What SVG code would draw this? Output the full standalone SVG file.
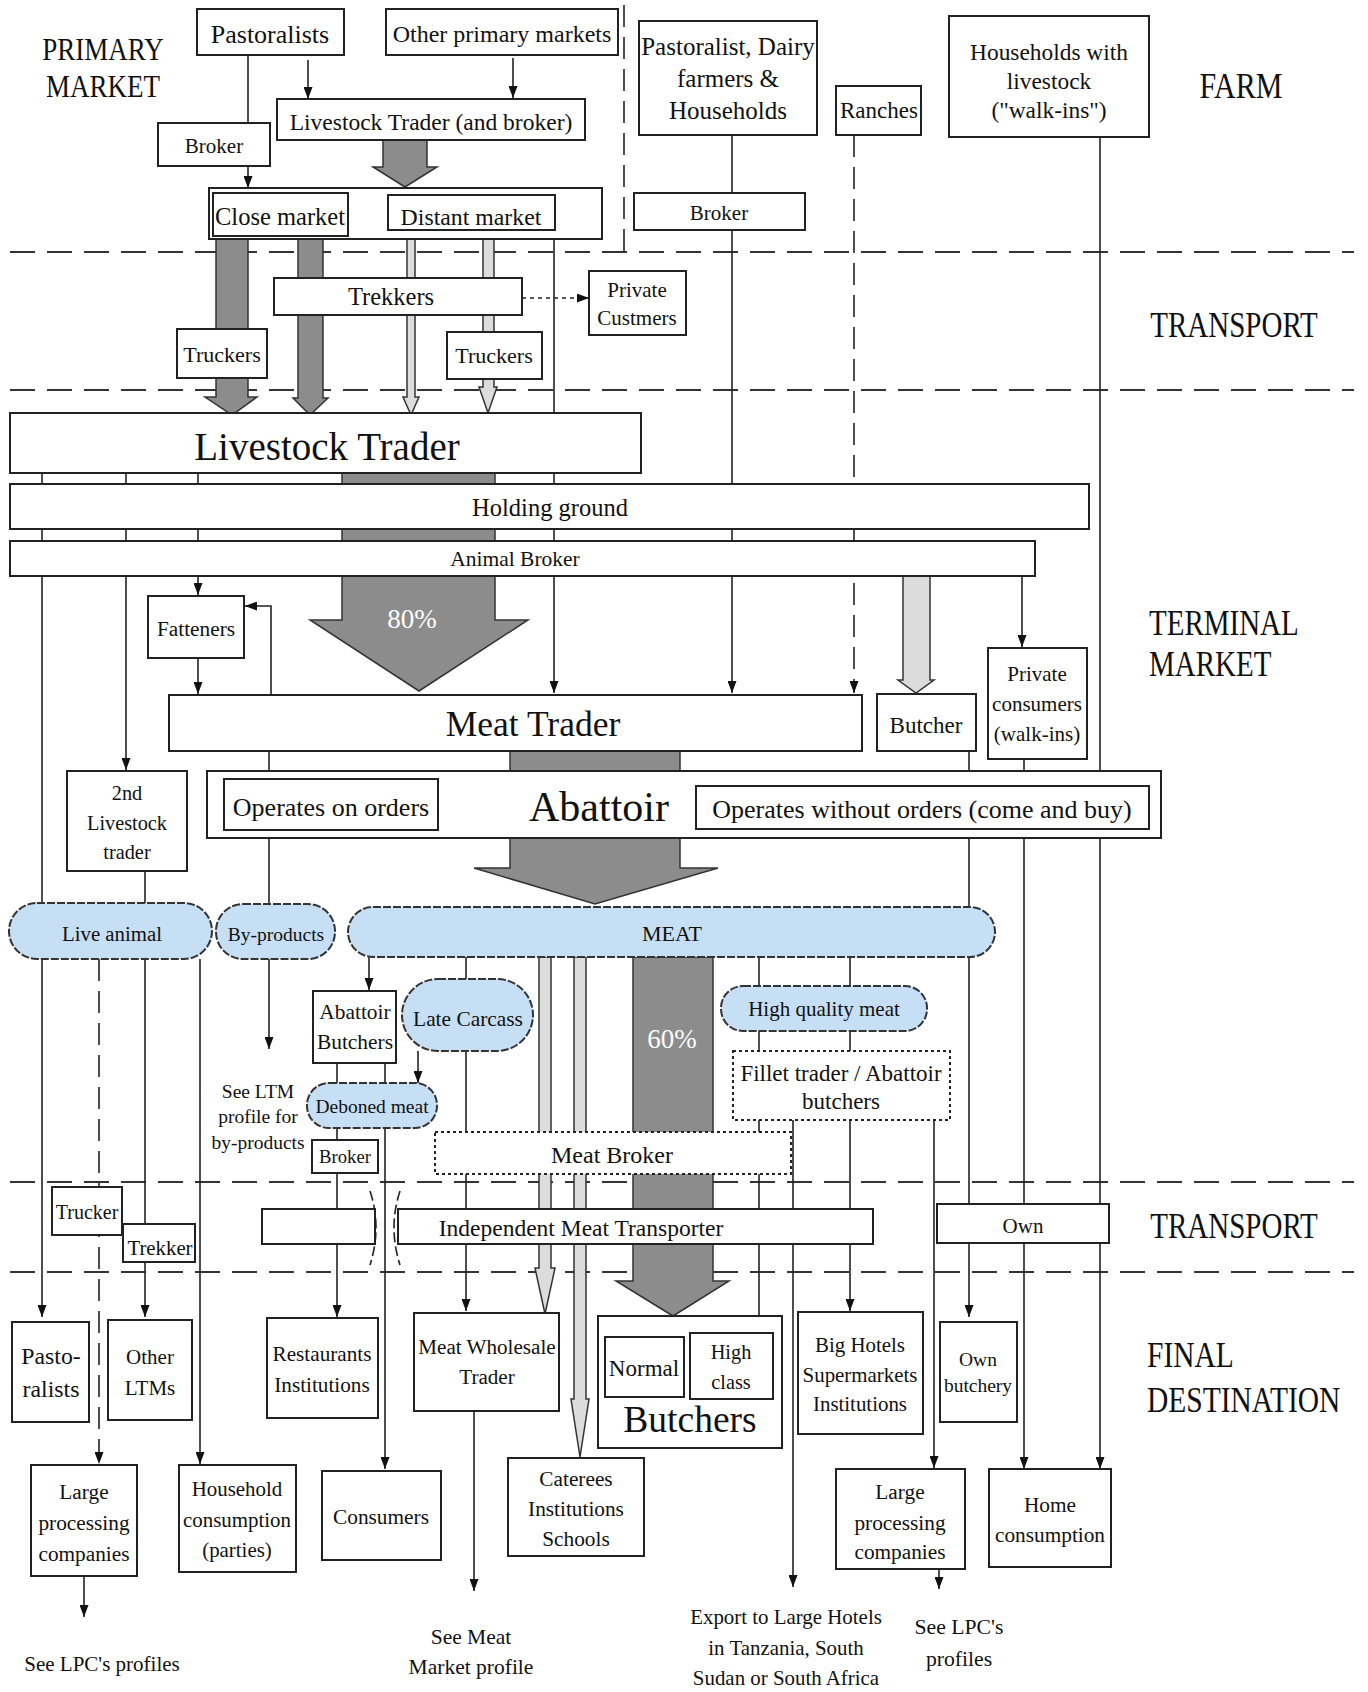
<svg xmlns="http://www.w3.org/2000/svg" width="1368" height="1692" viewBox="0 0 1368 1692">
<style>
.box{fill:#fff;stroke:#222;stroke-width:2}
.pill{fill:#c6dff5;stroke:#333;stroke-width:2;stroke-dasharray:8 2}
.dot{fill:#fff;stroke:#222;stroke-width:2;stroke-dasharray:3 3}
.ln{fill:none;stroke:#222;stroke-width:1.6}
.arr{marker-end:url(#ah)}
.dash{stroke-dasharray:22 10}
.sep{fill:none;stroke:#333;stroke-width:2;stroke-dasharray:25 12}
.big{fill:#8c8c8c;stroke:#333;stroke-width:1.5}
.lite{fill:#dcdcdc;stroke:#333;stroke-width:1.5}
text{font-family:"Liberation Serif","Times New Roman",serif;fill:#111}
.c{text-anchor:middle}
.w{fill:#fff}
</style>
<defs>
<marker id="ah" viewBox="0 0 10 10" refX="10" refY="5" markerWidth="12" markerHeight="9" markerUnits="userSpaceOnUse" orient="auto" preserveAspectRatio="none"><path d="M0,0L10,5L0,10z" fill="#111"/></marker>
</defs>
<rect width="1368" height="1692" fill="#fff"/>

<g id="section-lines">
<path class="sep" d="M10 252H1354M10 390H1354M10 1182H1354M10 1272H1354"/>
<path class="ln dash" d="M624 5V252" stroke-width="2"/>
</g>

<g id="connectors">
<path class="ln arr" d="M248 55V188"/>
<path class="ln arr" d="M308 60V99"/>
<path class="ln arr" d="M513 58V98"/>
<polygon class="big" points="383,140 427,140 427,167 437,167 405,187 373,167 383,167"/>
<polygon class="big" points="216,236 248,236 248,397 257,397 232,415 205,397 216,397"/>
<polygon class="big" points="298,236 323,236 323,398 328,398 310,415 293,398 298,398"/>
<polygon class="lite" points="407,230 415,230 415,397 419,397 411,415 403,397 407,397"/>
<polygon class="lite" points="483,230 494,230 494,387 497,387 488,413 479,387 483,387"/>
<path class="ln arr" d="M554 239V693"/>
<path class="ln arr" d="M522 298H589" stroke-dasharray="4 4"/>
<path class="ln arr" d="M732 135V693"/>
<path class="ln arr dash" d="M854 135V693"/>
<path class="ln arr" d="M1100 137V1469"/>
<polygon class="big" points="342,473 495,473 495,620 528,620 419,691 310,620 342,620"/>
<path class="ln arr" d="M42 473V1317"/>
<path class="ln arr" d="M126 473V770"/>
<path class="ln arr" d="M198 473V595"/>
<path class="ln arr" d="M198 658V694"/>
<path class="ln arr" d="M271 695V606H245"/>
<polygon class="lite" points="903,576 930,576 930,680 934,680 916,693 898,680 903,680"/>
<path class="ln arr" d="M1022 576V647"/>
<polygon class="big" points="510,751 680,751 680,868 718,868 595,904 474,868 510,868"/>
<path class="ln arr" d="M269 751V1049"/>
<path class="ln arr" d="M145 871V1317"/>
<path class="ln arr" d="M969 751V1317"/>
<path class="ln arr" d="M1024 759V1469"/>
<path class="ln arr dash" d="M99 959V1464"/>
<path class="ln arr" d="M200 959V1464"/>
<path class="ln arr" d="M369 957V990"/>
<path class="ln arr" d="M337 1063V1317"/>
<path class="ln arr" d="M385 1063V1469"/>
<path class="ln arr" d="M418 1051V1083"/>
<path class="ln arr" d="M466 957V1311"/>
<polygon class="lite" points="539,957 551,957 551,1268 555,1268 545,1314 535,1268 539,1268"/>
<polygon class="lite" points="574,957 586,957 586,1399 589,1399 580,1457 571,1399 574,1399"/>
<polygon class="big" points="633,957 713,957 713,1281 729,1281 673,1316 616,1281 633,1281"/>
<path class="ln arr" d="M759 957V1332"/>
<path class="ln arr" d="M850 957V1311"/>
<path class="ln arr" d="M793 1120V1587"/>
<path class="ln arr" d="M934 1120V1468"/>
<path class="ln arr" d="M474 1411V1591"/>
<path class="ln arr" d="M84 1576V1617"/>
<path class="ln arr" d="M939 1569V1589"/>
</g>

<g id="labels-sections">
<text class="c" font-size="27" transform="scale(1 1.2)"><tspan x="103" y="50">PRIMARY</tspan><tspan x="103" y="80.8">MARKET</tspan></text>
<text class="c" font-size="30" x="1241" y="81.7" transform="scale(1 1.2)">FARM</text>
<text class="c" font-size="29" x="1234" y="280.8" transform="scale(1 1.2)">TRANSPORT</text>
<text font-size="29" transform="scale(1 1.2)"><tspan x="1149" y="529.2">TERMINAL</tspan><tspan x="1149" y="563.3">MARKET</tspan></text>
<text class="c" font-size="29" x="1234" y="1031.7" transform="scale(1 1.2)">TRANSPORT</text>
<text font-size="29.5" transform="scale(1 1.2)"><tspan x="1147" y="1139.2">FINAL</tspan><tspan x="1147" y="1176.7">DESTINATION</tspan></text>
</g>

<g id="n-pastoralists"><rect class="box" x="197" y="9" width="147" height="46"/><text class="c" font-size="26" x="270" y="43">Pastoralists</text></g>
<g id="n-otherprimary"><rect class="box" x="386" y="9" width="232" height="46"/><text class="c" font-size="24" x="502" y="42">Other primary markets</text></g>
<g id="n-ltbroker"><rect class="box" x="277" y="99" width="308" height="41"/><text class="c" font-size="23.5" x="431" y="130">Livestock Trader (and broker)</text></g>
<g id="n-broker1"><rect class="box" x="158" y="123" width="112" height="43"/><text class="c" font-size="21" x="214" y="153">Broker</text></g>
<g id="n-market"><rect class="box" x="209" y="188" width="393" height="51"/>
<rect class="box" x="213" y="193" width="135" height="43"/><text class="c" font-size="24.5" x="280" y="225">Close market</text>
<rect class="box" x="388" y="195" width="167" height="35"/><text class="c" font-size="23.8" x="471" y="225">Distant market</text></g>
<g id="n-trekkers"><rect class="box" x="274" y="278" width="248" height="37"/><text class="c" font-size="24.5" x="391" y="305">Trekkers</text></g>
<g id="n-truckers1"><rect class="box" x="177" y="329" width="90" height="49"/><text class="c" font-size="22" x="222" y="362">Truckers</text></g>
<g id="n-truckers2"><rect class="box" x="447" y="332" width="95" height="47"/><text class="c" font-size="22" x="494" y="363">Truckers</text></g>
<g id="n-privcust"><rect class="box" x="589" y="271" width="97" height="64"/><text class="c" font-size="21"><tspan x="637" y="297">Private</tspan><tspan x="637" y="325">Custmers</tspan></text></g>
<g id="n-pdh"><rect class="box" x="639" y="21" width="178" height="114"/><text class="c" font-size="25"><tspan x="728" y="55">Pastoralist, Dairy</tspan><tspan x="728" y="87">farmers &amp;</tspan><tspan x="728" y="119">Households</tspan></text></g>
<g id="n-broker2"><rect class="box" x="634" y="193" width="171" height="37"/><text class="c" font-size="21" x="719" y="220">Broker</text></g>
<g id="n-ranches"><rect class="box" x="836" y="86" width="85" height="49"/><text class="c" font-size="23" x="879" y="118">Ranches</text></g>
<g id="n-households"><rect class="box" x="949" y="16" width="200" height="121"/><text class="c" font-size="23.4"><tspan x="1049" y="60">Households with</tspan><tspan x="1049" y="89">livestock</tspan><tspan x="1049" y="118">("walk-ins")</tspan></text></g>

<g id="n-livestocktrader"><rect class="box" x="10" y="413" width="631" height="60"/><text class="c" font-size="39" x="327" y="460">Livestock Trader</text></g>
<g id="n-holding"><rect class="box" x="10" y="484" width="1079" height="45"/><text class="c" font-size="24.5" x="550" y="516">Holding ground</text></g>
<g id="n-animalbroker"><rect class="box" x="10" y="541" width="1025" height="35"/><text class="c" font-size="21.5" x="515" y="566">Animal Broker</text></g>
<text class="c w" font-size="27" x="412" y="628">80%</text>
<g id="n-fatteners"><rect class="box" x="148" y="596" width="96" height="62"/><text class="c" font-size="21.3" x="196" y="636">Fatteners</text></g>
<g id="n-meattrader"><rect class="box" x="169" y="695" width="693" height="56"/><text class="c" font-size="35.5" x="533" y="736">Meat Trader</text></g>
<g id="n-butcher"><rect class="box" x="877" y="694" width="99" height="57"/><text class="c" font-size="23" x="926" y="733">Butcher</text></g>
<g id="n-privcons"><rect class="box" x="988" y="648" width="99" height="111"/><text class="c" font-size="21"><tspan x="1037" y="681">Private</tspan><tspan x="1037" y="711">consumers</tspan><tspan x="1037" y="741">(walk-ins)</tspan></text></g>
<g id="n-2ndlt"><rect class="box" x="67" y="771" width="120" height="100"/><text class="c" font-size="20.3"><tspan x="127" y="800">2nd</tspan><tspan x="127" y="830">Livestock</tspan><tspan x="127" y="859">trader</tspan></text></g>
<g id="n-abattoir"><rect class="box" x="207" y="771" width="954" height="67"/>
<rect class="box" x="224" y="779" width="214" height="51"/><text class="c" font-size="26" x="331" y="816">Operates on orders</text>
<text class="c" font-size="42" x="599" y="821">Abattoir</text>
<rect class="box" x="696" y="786" width="453" height="43"/><text class="c" font-size="26" x="922" y="818">Operates without orders (come and buy)</text></g>

<g id="n-live"><rect class="pill" x="9" y="903" width="203" height="56" rx="28"/><text class="c" font-size="20.8" x="112" y="941">Live animal</text></g>
<g id="n-byproducts"><rect class="pill" x="216" y="904" width="119" height="55" rx="27"/><text class="c" font-size="19.5" x="276" y="941">By-products</text></g>
<g id="n-meat"><rect class="pill" x="348" y="907" width="647" height="50" rx="25"/><text class="c" font-size="22" x="672" y="941">MEAT</text></g>
<g id="n-abbutchers"><rect class="box" x="313" y="991" width="83" height="72"/><text class="c" font-size="21.4"><tspan x="355" y="1019">Abattoir</tspan><tspan x="355" y="1049">Butchers</tspan></text></g>
<g id="n-latecarcass"><rect class="pill" x="402" y="979" width="131" height="72" rx="36"/><text class="c" font-size="21.4" x="468" y="1026">Late Carcass</text></g>
<text class="c w" font-size="27" x="672" y="1048">60%</text>
<g id="n-hq"><rect class="pill" x="721" y="986" width="206" height="45" rx="22"/><text class="c" font-size="21" x="824" y="1016">High quality meat</text></g>
<g id="n-fillet"><rect class="dot" x="733" y="1051" width="217" height="69"/><text class="c" font-size="23"><tspan x="841" y="1081">Fillet trader / Abattoir</tspan><tspan x="841" y="1109">butchers</tspan></text></g>
<g id="n-seeltm"><text class="c" font-size="19.5"><tspan x="258" y="1098">See LTM</tspan><tspan x="258" y="1123">profile for</tspan><tspan x="258" y="1149">by-products</tspan></text></g>
<g id="n-deboned"><rect class="pill" x="307" y="1083" width="130" height="45" rx="22"/><text class="c" font-size="19.5" x="372" y="1113">Deboned meat</text></g>
<g id="n-broker3"><rect class="box" x="312" y="1140" width="66" height="33"/><text class="c" font-size="18.7" x="345" y="1163">Broker</text></g>
<g id="n-meatbroker"><rect class="dot" x="435" y="1132" width="356" height="42"/><text class="c" font-size="24" x="612" y="1163">Meat Broker</text></g>
<g id="n-trucker"><rect class="box" x="52" y="1187" width="70" height="48"/><text class="c" font-size="20" x="87" y="1219">Trucker</text></g>
<g id="n-trekker"><rect class="box" x="123" y="1224" width="72" height="38"/><text class="c" font-size="20.8" x="160" y="1255">Trekker</text></g>
<g id="n-imt"><rect class="box" x="262" y="1209" width="113" height="35"/><rect class="box" x="398" y="1209" width="475" height="35"/>
<path class="ln" d="M370 1191Q382 1227 370 1265M400 1191Q388 1227 400 1265" stroke-dasharray="10 4"/>
<text class="c" font-size="23.5" x="581" y="1236">Independent Meat Transporter</text></g>
<g id="n-own"><rect class="box" x="937" y="1204" width="172" height="39"/><text class="c" font-size="21" x="1023" y="1233">Own</text></g>

<g id="n-pasto"><rect class="box" x="12" y="1322" width="77" height="100"/><text class="c" font-size="23.8"><tspan x="51" y="1364">Pasto-</tspan><tspan x="51" y="1397">ralists</tspan></text></g>
<g id="n-otherltms"><rect class="box" x="108" y="1320" width="84" height="100"/><text class="c" font-size="21"><tspan x="150" y="1364">Other</tspan><tspan x="150" y="1395">LTMs</tspan></text></g>
<g id="n-restaurants"><rect class="box" x="267" y="1318" width="111" height="100"/><text class="c" font-size="21.2"><tspan x="322" y="1361">Restaurants</tspan><tspan x="322" y="1392">Institutions</tspan></text></g>
<g id="n-mwt"><rect class="box" x="414" y="1313" width="145" height="98"/><text class="c" font-size="21.1"><tspan x="487" y="1354">Meat Wholesale</tspan><tspan x="487" y="1384">Trader</tspan></text></g>
<g id="n-butchers"><rect class="box" x="598" y="1316" width="184" height="132"/>
<rect class="box" x="605" y="1337" width="79" height="60"/><text class="c" font-size="23" x="644" y="1376">Normal</text>
<rect class="box" x="690" y="1333" width="83" height="66"/><text class="c" font-size="20.3"><tspan x="731" y="1359">High</tspan><tspan x="731" y="1389">class</tspan></text>
<text class="c" font-size="37.5" x="690" y="1432">Butchers</text></g>
<g id="n-bighotels"><rect class="box" x="798" y="1312" width="125" height="122"/><text class="c" font-size="20.9"><tspan x="860" y="1352">Big Hotels</tspan><tspan x="860" y="1382">Supermarkets</tspan><tspan x="860" y="1411">Institutions</tspan></text></g>
<g id="n-ownbutchery"><rect class="box" x="940" y="1322" width="77" height="100"/><text class="c" font-size="19.5"><tspan x="978" y="1366">Own</tspan><tspan x="978" y="1392">butchery</tspan></text></g>
<g id="n-lpc1"><rect class="box" x="31" y="1465" width="106" height="111"/><text class="c" font-size="21.3"><tspan x="84" y="1499">Large</tspan><tspan x="84" y="1530">processing</tspan><tspan x="84" y="1561">companies</tspan></text></g>
<g id="n-hhcons"><rect class="box" x="179" y="1465" width="117" height="107"/><text class="c" font-size="20.9"><tspan x="237" y="1496">Household</tspan><tspan x="237" y="1527">consumption</tspan><tspan x="237" y="1557">(parties)</tspan></text></g>
<g id="n-consumers"><rect class="box" x="322" y="1471" width="119" height="89"/><text class="c" font-size="21.3" x="381" y="1524">Consumers</text></g>
<g id="n-caterees"><rect class="box" x="508" y="1458" width="136" height="98"/><text class="c" font-size="21.3"><tspan x="576" y="1486">Caterees</tspan><tspan x="576" y="1516">Institutions</tspan><tspan x="576" y="1546">Schools</tspan></text></g>
<g id="n-lpc2"><rect class="box" x="836" y="1469" width="129" height="100"/><text class="c" font-size="21.3"><tspan x="900" y="1499">Large</tspan><tspan x="900" y="1530">processing</tspan><tspan x="900" y="1559">companies</tspan></text></g>
<g id="n-home"><rect class="box" x="989" y="1469" width="122" height="98"/><text class="c" font-size="21.3"><tspan x="1050" y="1512">Home</tspan><tspan x="1050" y="1542">consumption</tspan></text></g>

<g id="n-notes">
<text class="c" font-size="21" x="102" y="1671">See LPC's profiles</text>
<text class="c" font-size="21.5"><tspan x="471" y="1644">See Meat</tspan><tspan x="471" y="1674">Market profile</tspan></text>
<text class="c" font-size="20.9"><tspan x="786" y="1624">Export to Large Hotels</tspan><tspan x="786" y="1655">in Tanzania, South</tspan><tspan x="786" y="1685">Sudan or South Africa</tspan></text>
<text class="c" font-size="21.7"><tspan x="959" y="1634">See LPC's</tspan><tspan x="959" y="1666">profiles</tspan></text>
</g>
</svg>
